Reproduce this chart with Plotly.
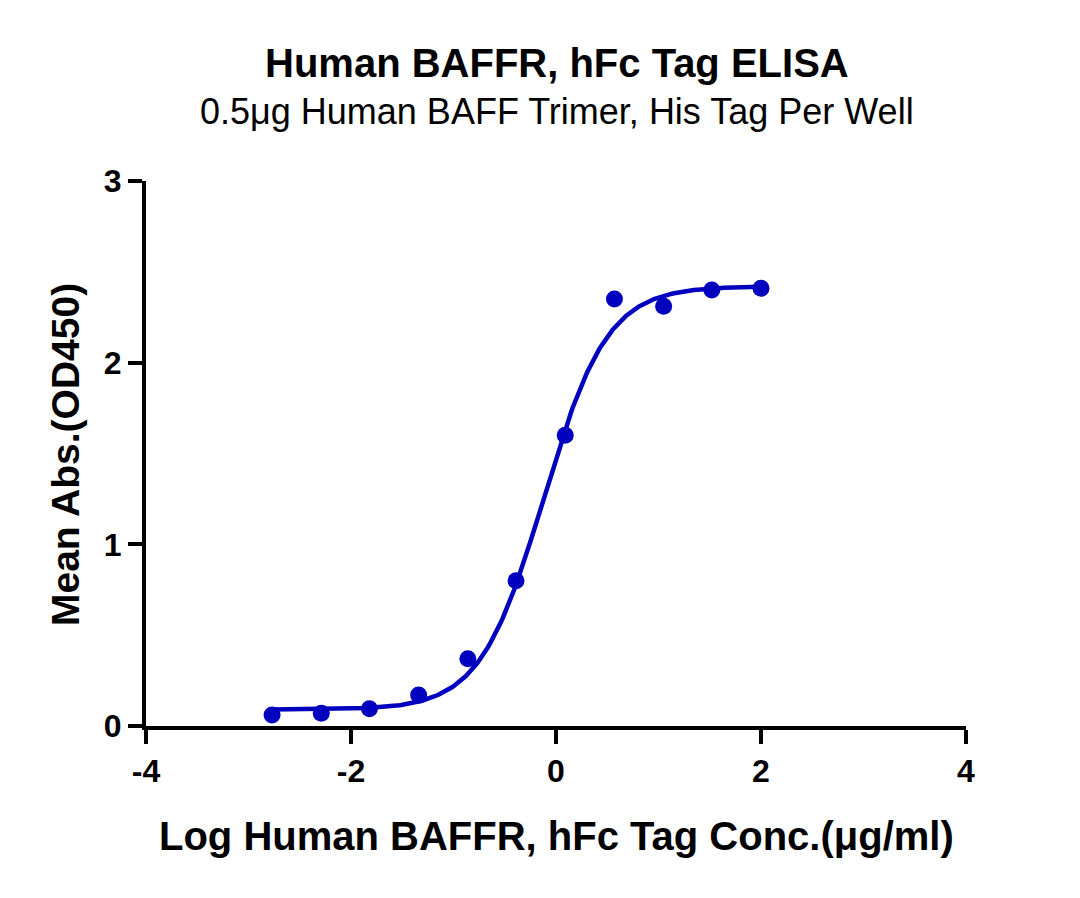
import numpy as np
import plotly.graph_objects as go

# Data
log_conc = [-2.77, -2.29, -1.82, -1.34, -0.86, -0.39, 0.09, 0.57, 1.05, 1.52, 2.0]
mean_abs = [0.06, 0.07, 0.095, 0.17, 0.37, 0.80, 1.60, 2.35, 2.31, 2.40, 2.41]

# 4PL fit parameters
fit_bottom = 0.09
fit_top = 2.42
fit_logec50 = -0.12
fit_hill = 1.4

x_ticks = [-4, -2, 0, 2, 4]
y_ticks = [0, 1, 2, 3]

xc = np.linspace(min(log_conc), max(log_conc), 300)
yc = fit_bottom + (fit_top - fit_bottom) / (1 + 10 ** ((fit_logec50 - xc) * fit_hill))

blue = "#0000BE"
font = "Liberation Sans, Arial, sans-serif"

fig = go.Figure()
fig.add_trace(go.Scatter(x=xc, y=yc, mode="lines", line=dict(color=blue, width=4.5),
                         hoverinfo="skip", showlegend=False))
fig.add_trace(go.Scatter(x=log_conc, y=mean_abs, mode="markers",
                         marker=dict(color=blue, size=17), showlegend=False, cliponaxis=False))

axis_common = dict(showline=True, linecolor="black", linewidth=4, ticks="outside",
                   ticklen=14, tickwidth=4, tickcolor="black", showgrid=False, zeroline=False,
                   tickfont=dict(family=font, size=32, color="black", weight="bold"))

fig.update_layout(
    width=1080, height=898,
    margin=dict(l=146, r=114, t=181, b=172),
    plot_bgcolor="white", paper_bgcolor="white",
    xaxis=dict(range=[-4, 4], tickvals=x_ticks, ticktext=[str(v) for v in x_ticks],
               ticklabelstandoff=0, **axis_common),
    yaxis=dict(range=[0, 3], tickvals=y_ticks, ticktext=[str(v) for v in y_ticks],
               ticklabelstandoff=0, **axis_common),
    annotations=[
        dict(text="<b>Human BAFFR, hFc Tag ELISA</b>", x=557, y=63, xref="paper", yref="paper",
             showarrow=False, font=dict(family=font, size=40, color="black")),
        dict(text="0.5μg Human BAFF Trimer, His Tag Per Well", x=557, y=111, xref="paper", yref="paper",
             showarrow=False, font=dict(family=font, size=36, color="black")),
        dict(text="<b>Log Human BAFFR, hFc Tag Conc.(μg/ml)</b>", x=556, y=836, xref="paper", yref="paper",
             showarrow=False, font=dict(family=font, size=40, color="black")),
        dict(text="<b>Mean Abs.(OD450)</b>", x=66, y=455, xref="paper", yref="paper", textangle=-90,
             showarrow=False, font=dict(family=font, size=39, color="black")),
    ],
)

# convert pixel positions of annotations into paper coords
pw, ph = 1080 - 146 - 114, 898 - 181 - 172
for a in fig.layout.annotations:
    a.y = (898 - 172 - a.y) / ph
    a.x = (a.x - 146) / pw
    a.xanchor = "center"
    a.yanchor = "middle"

fig.write_html("out.html")
